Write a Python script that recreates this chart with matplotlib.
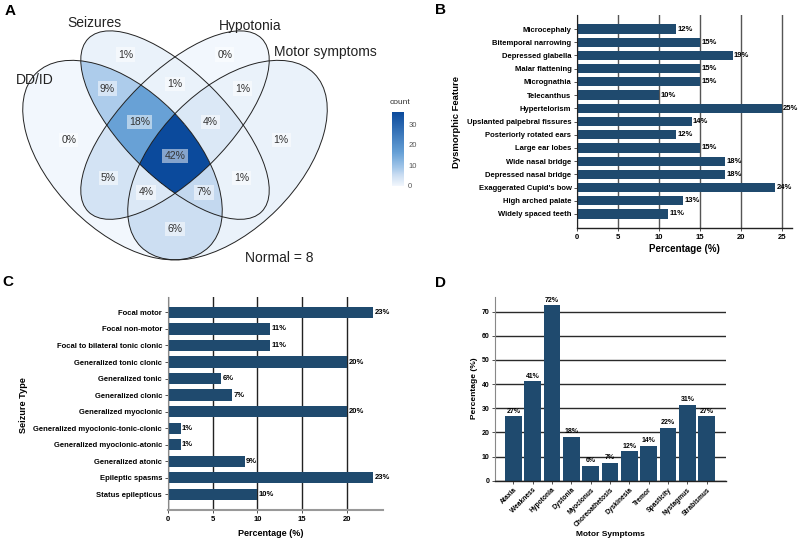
import numpy as np
import matplotlib.pyplot as plt
from matplotlib.patches import Ellipse
from matplotlib.colors import LinearSegmentedColormap, Normalize
from matplotlib.cm import ScalarMappable

plt.rcParams['font.family'] = ['Liberation Sans', 'DejaVu Sans']

# ---- A: Venn (DD/ID, Seizures, Hypotonia, Motor symptoms) ----
set_names = ["DD/ID", "Seizures", "Hypotonia", "Motor symptoms"]
# membership of each region in (DD/ID, Seizures, Hypotonia, Motor symptoms)
region_members = [
    (1, 0, 0, 0), (0, 1, 0, 0), (0, 0, 1, 0), (0, 0, 0, 1),
    (1, 1, 0, 0), (0, 1, 1, 0), (0, 0, 1, 1), (1, 0, 1, 0), (0, 1, 0, 1), (1, 0, 0, 1),
    (1, 1, 1, 0), (0, 1, 1, 1), (1, 0, 1, 1), (1, 1, 0, 1),
    (1, 1, 1, 1),
]
region_counts = [0, 1, 0, 1, 8, 1, 1, 4, 1, 5, 16, 3, 3, 6, 36]
region_labels = ["0%", "1%", "0%", "1%", "9%", "1%", "1%", "5%", "1%", "6%",
                 "18%", "4%", "4%", "7%", "42%"]
normal_count = 8

# ---- B: dysmorphic features ----
dysmorphic = ["Microcephaly", "Bitemporal narrowing", "Depressed glabella", "Malar flattening",
              "Micrognathia", "Telecanthus", "Hypertelorism", "Upslanted palpebral fissures",
              "Posteriorly rotated ears", "Large ear lobes", "Wide nasal bridge",
              "Depressed nasal bridge", "Exaggerated Cupid's bow", "High arched palate",
              "Widely spaced teeth"]
dysmorphic_pct = [12.1, 15.0, 19.0, 15.0, 15.0, 10.0, 25.0, 14.0, 12.1, 15.0, 18.1, 18.1,
                  24.2, 13.0, 11.1]

# ---- C: seizure types ----
seizure_types = ["Focal motor", "Focal non-motor", "Focal to bilateral tonic clonic",
                 "Generalized tonic clonic", "Generalized tonic", "Generalized clonic",
                 "Generalized myoclonic", "Generalized myoclonic-tonic-clonic",
                 "Generalized myoclonic-atonic", "Generalized atonic", "Epileptic spasms",
                 "Status epilepticus"]
seizure_pct = [22.9, 11.45, 11.45, 20.0, 6.0, 7.2, 20.0, 1.45, 1.45, 8.6, 22.9, 10.0]

# ---- D: motor symptoms ----
motor = ["Ataxia", "Weakness", "Hypotonia", "Dystonia", "Myoclonus", "Choreoathetosis",
         "Dyskinesia", "Tremor", "Spasticity", "Nystagmus", "Strabismus"]
motor_pct = [26.7, 41.1, 72.5, 18.2, 6.2, 7.4, 12.2, 14.4, 22.0, 31.4, 26.7]

bar_color = '#1F4A6E'
W, H = 800, 540


def px_axes(fig, left, top, right, bottom):
    return fig.add_axes([left / W, 1 - bottom / H, (right - left) / W, (bottom - top) / H])


fig = plt.figure(figsize=(8, 5.4), dpi=100)

# ================= Panel A =================
axA = px_axes(fig, 0, 25, 350, 270)
xlim_a = (0.0, 1.0)
ylim_a = (0.156, 0.856)
ell_x = [0.35, 0.50, 0.50, 0.65]
ell_y = [0.47, 0.57, 0.57, 0.47]
ell_a = [0.35, 0.35, 0.35, 0.35]
ell_b = [0.20, 0.15, 0.15, 0.20]
ell_ang = [-45, -45, 45, 45]

gx = np.linspace(xlim_a[0], xlim_a[1], 1400)
gy = np.linspace(ylim_a[0], ylim_a[1], 980)
X, Y = np.meshgrid(gx, gy)
inside = []
for cx, cy, a, b, ang in zip(ell_x, ell_y, ell_a, ell_b, ell_ang):
    t = np.deg2rad(ang)
    dx, dy = X - cx, Y - cy
    u = dx * np.cos(t) + dy * np.sin(t)
    v = -dx * np.sin(t) + dy * np.cos(t)
    inside.append((u / a) ** 2 + (v / b) ** 2 <= 1)

cmap = LinearSegmentedColormap.from_list(
    'venn', [(0, '#F2F7FD'), (0.15, '#C9DCF1'), (0.25, '#A2C6E9'),
             (0.45, '#66A0D6'), (1, '#0B4A9C')])
norm = Normalize(0, max(region_counts))
fill = np.full(X.shape, np.nan)
for mem, cnt, lab in zip(region_members, region_counts, region_labels):
    m = np.ones(X.shape, bool)
    for k in range(4):
        m &= inside[k] == bool(mem[k])
    fill[m] = cnt
    axA.text(X[m].mean(), Y[m].mean(), lab, ha='center', va='center', fontsize=7.5,
             color='#333333', zorder=5,
             bbox=dict(boxstyle='square,pad=0.2', fc='white', ec='none', alpha=0.5))

axA.imshow(np.ma.masked_invalid(fill), extent=(*xlim_a, *ylim_a), origin='lower',
           cmap=cmap, norm=norm, interpolation='nearest', aspect='auto')
for cx, cy, a, b, ang in zip(ell_x, ell_y, ell_a, ell_b, ell_ang):
    axA.add_patch(Ellipse((cx, cy), 2 * a, 2 * b, angle=ang, fill=False, ec='#222222', lw=0.7))
axA.set_xlim(*xlim_a)
axA.set_ylim(*ylim_a)
axA.axis('off')

name_pos = [(0.10, 0.70), (0.271, 0.862), (0.714, 0.853), (0.929, 0.779)]
for name, (tx, ty) in zip(set_names, name_pos):
    axA.text(tx, ty, name, ha='center', va='center', fontsize=10, color='#222222')
axA.text(0.797, 0.190, f"Normal = {normal_count}", ha='center', va='center', fontsize=10,
         color='#222222')

cax = px_axes(fig, 392, 112, 404, 186)
cb = fig.colorbar(ScalarMappable(norm=norm, cmap=cmap), cax=cax, ticks=[0, 10, 20, 30])
cb.outline.set_visible(False)
cax.tick_params(length=0, labelsize=5.5, labelcolor='#555555', pad=3)
fig.text(400 / W, 1 - 103 / H, 'count', ha='center', va='center', fontsize=6, color='#333333')


def style_axes(ax, grid_axis, grid_color, left_color, bottom_color, lw_bottom=1.0):
    for s in ['top', 'right']:
        ax.spines[s].set_visible(False)
    ax.spines['left'].set_color(left_color)
    ax.spines['bottom'].set_color(bottom_color)
    ax.spines['bottom'].set_linewidth(lw_bottom)
    ax.grid(axis=grid_axis, color=grid_color, lw=1.0)
    ax.set_axisbelow(True)
    ax.tick_params(length=2.5, width=0.6, color='#333333', pad=1.5)


# ================= Panel B =================
axB = px_axes(fig, 577, 15, 792, 228)
yb = np.arange(len(dysmorphic))
axB.barh(yb, dysmorphic_pct, height=0.7, color=bar_color)
for y, v in zip(yb, dysmorphic_pct):
    axB.text(v + 0.15, y, f"{round(v)}%", va='center', ha='left', fontsize=5.5, fontweight='bold')
axB.set_ylim(len(dysmorphic) - 1 + 1.06, -1.06)
axB.set_xlim(0, max(dysmorphic_pct) * 1.05)
axB.set_yticks(yb, dysmorphic, fontsize=5.5, fontweight='bold')
axB.set_xticks([0, 5, 10, 15, 20, 25], ['0', '5', '10', '15', '20', '25'], fontsize=5.5,
               fontweight='bold')
style_axes(axB, 'x', '#555555', '#222222', '#222222')
axB.set_xlabel('Percentage (%)', fontsize=7, fontweight='bold', va='center')
axB.xaxis.set_label_coords(0.498, -0.10)
axB.set_ylabel('Dysmorphic Feature', fontsize=6.8, fontweight='bold', va='center')
axB.yaxis.set_label_coords(-0.559, 0.5)

# ================= Panel C =================
axC = px_axes(fig, 167.7, 296.7, 383.3, 510)
yc = np.arange(len(seizure_types))
axC.barh(yc, seizure_pct, height=0.68, color=bar_color)
for y, v in zip(yc, seizure_pct):
    axC.text(v + 0.15, y, f"{round(v)}%", va='center', ha='left', fontsize=5.5, fontweight='bold')
axC.set_ylim(len(seizure_types) - 1 + 0.95, -0.95)
axC.set_xlim(0, max(seizure_pct) * 1.05)
axC.set_yticks(yc, seizure_types, fontsize=5.5, fontweight='bold')
axC.set_xticks([0, 5, 10, 15, 20], ['0', '5', '10', '15', '20'], fontsize=5.5, fontweight='bold')
style_axes(axC, 'x', '#222222', '#888888', '#999999', lw_bottom=1.5)
axC.set_xlabel('Percentage (%)', fontsize=6.5, fontweight='bold', va='center')
axC.xaxis.set_label_coords(0.48, -0.109)
axC.set_ylabel('Seizure Type', fontsize=6.6, fontweight='bold', va='center')
axC.yaxis.set_label_coords(-0.671, 0.49)

# ================= Panel D =================
axD = px_axes(fig, 495, 296.7, 726, 480.7)
xd = np.arange(len(motor))
axD.bar(xd, motor_pct, width=0.86, color=bar_color)
for x, v in zip(xd, motor_pct):
    axD.text(x, v + 0.6, f"{round(v)}%", ha='center', va='bottom', fontsize=5, fontweight='bold')
axD.set_xlim(-0.95, len(motor) - 1 + 1.0)
axD.set_ylim(0, max(motor_pct) * 1.05)
axD.set_xticks(xd, motor, fontsize=4.8, fontweight='bold', rotation=45, ha='right',
               rotation_mode='anchor')
axD.set_yticks(range(0, 80, 10), [str(t) for t in range(0, 80, 10)], fontsize=5,
               fontweight='bold')
style_axes(axD, 'y', '#2a2a2a', '#888888', '#222222')
axD.set_xlabel('Motor Symptoms', fontsize=6, fontweight='bold', va='center')
axD.xaxis.set_label_coords(0.499, -0.291)
axD.set_ylabel('Percentage (%)', fontsize=6, fontweight='bold', va='center')
axD.yaxis.set_label_coords(-0.0866, 0.502)

# panel letters
for letter, (lx, ly) in zip("ABCD", [(10, 11), (440, 10), (8, 282), (440, 283)]):
    fig.text(lx / W, 1 - ly / H, letter, ha='center', va='center', fontsize=11, fontweight='bold')

fig.savefig('out.png', dpi=100)
